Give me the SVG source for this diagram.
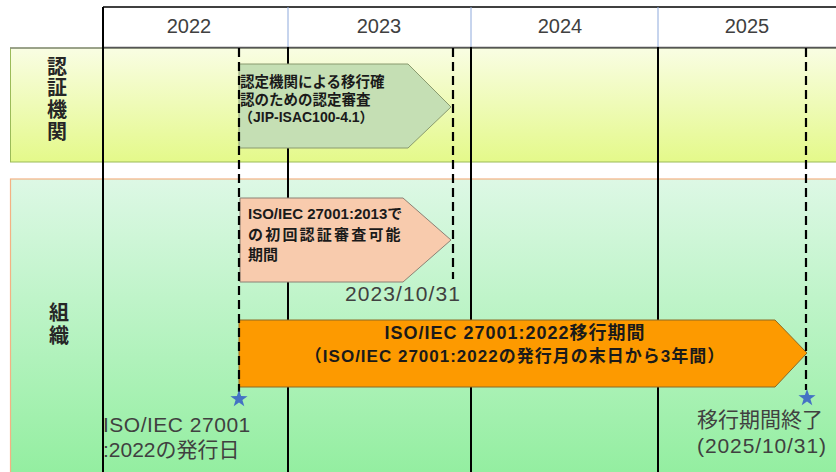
<svg xmlns="http://www.w3.org/2000/svg" width="836" height="472" viewBox="0 0 836 472">
<defs>
<linearGradient id="gBand1" x1="0" y1="0" x2="0" y2="1">
<stop offset="0" stop-color="#f9fde3"/>
<stop offset="1" stop-color="#e4f98a"/>
</linearGradient>
<linearGradient id="gBand2" x1="0" y1="0" x2="0" y2="1">
<stop offset="0" stop-color="#ddf8e5"/>
<stop offset="1" stop-color="#92ee9f"/>
</linearGradient>
<path id="star" d="M0,-9 L2.12,-2.91 L8.56,-2.78 L3.42,1.11 L5.29,7.28 L0,3.6 L-5.29,7.28 L-3.42,1.11 L-8.56,-2.78 L-2.12,-2.91 Z" fill="#4472c4"/>
<style>
.t{font-family:"Liberation Sans","Noto Sans CJK JP",sans-serif;}
.yr{font-size:20px;fill:#404040;text-anchor:middle;}
.side{font-size:20px;fill:#262626;font-weight:bold;text-anchor:middle;}
.lbl{font-size:21px;fill:#404040;}
.bt{font-weight:bold;fill:#1a1a1a;}
.solid{stroke:#000;stroke-width:2;fill:none;}
.dash{stroke:#000;stroke-width:2.2;stroke-dasharray:9 5;fill:none;}
.hdiv{stroke:#8faadc;stroke-width:1;}
</style>
</defs>

<g id="background">
<rect x="103" y="7" width="740" height="40" fill="#ffffff"/>
<line x1="103" y1="7" x2="836" y2="7" stroke="#000" stroke-width="1.5"/>
<line class="hdiv" x1="288" y1="7" x2="288" y2="47"/>
<line class="hdiv" x1="471" y1="7" x2="471" y2="47"/>
<line class="hdiv" x1="658" y1="7" x2="658" y2="47"/>
<rect x="10.5" y="48" width="830" height="114" fill="url(#gBand1)" stroke="#9bbb59" stroke-width="1"/>
<line x1="10" y1="48" x2="836" y2="48" stroke="#8a8f80" stroke-width="1.5"/>
<line x1="103" y1="47.5" x2="836" y2="47.5" stroke="#555" stroke-width="1.5"/>
<rect x="10.5" y="179" width="830" height="300" fill="url(#gBand2)" stroke="#f4b183" stroke-width="1.2"/>
</g>

<g id="years" class="t">
<text class="yr" x="189" y="33">2022</text>
<text class="yr" x="379" y="33">2023</text>
<text class="yr" x="560" y="33">2024</text>
<text class="yr" x="747" y="33">2025</text>
</g>

<g id="rowlabels" class="t">
<text class="side" x="57" y="74">認</text>
<text class="side" x="57" y="95">証</text>
<text class="side" x="57" y="117">機</text>
<text class="side" x="57" y="139">関</text>
<text class="side" x="59" y="320">組</text>
<text class="side" x="59" y="343">織</text>
</g>

<g id="grid">
<line class="solid" x1="103" y1="7" x2="103" y2="472"/>
<line class="solid" x1="288" y1="47" x2="288" y2="472"/>
<line class="solid" x1="471" y1="47" x2="471" y2="472"/>
<line class="solid" x1="658" y1="47" x2="658" y2="472"/>
</g>

<g id="node-cert-audit">
<path d="M239,64 L408,64 L451,107 L408,148 L239,148 Z" fill="#c5dfb4" stroke="#8a9a6e" stroke-width="1"/>
</g>

<g id="node-initial-audit">
<path d="M240,198 L403,198 L451,240 L403,282 L240,282 Z" fill="#f8cbad" stroke="#8c8074" stroke-width="1"/>
</g>

<g id="node-transition">
<path d="M239,320 L775,320 L807,353 L775,387 L239,387 Z" fill="#fd9a00" stroke="#8c6a24" stroke-width="1"/>
</g>

<g id="connectors">
<line class="dash" x1="239" y1="48" x2="239" y2="392"/>
<line class="dash" x1="453" y1="48" x2="453" y2="279"/>
<line class="dash" x1="806" y1="48" x2="806" y2="390"/>
</g>

<g id="markers">
<use href="#star" transform="translate(239,399)"/>
<use href="#star" transform="translate(807,398)"/>
</g>

<g id="node-texts" class="t">
<text class="bt" font-size="14.5" x="240" y="87">認定機関による移行確</text>
<text class="bt" font-size="14.5" x="240" y="105">認のための認定審査</text>
<text class="bt" font-size="14" x="239" y="122">（JIP-ISAC100-4.1）</text>

<text class="bt" font-size="15" x="248" y="219">ISO/IEC 27001:2013で</text>
<text class="bt" font-size="15" x="248" y="240" letter-spacing="2.2">の初回認証審査可能</text>
<text class="bt" font-size="15" x="248" y="260">期間</text>

<text class="bt" font-size="18" x="515" y="339" text-anchor="middle" letter-spacing="1">ISO/IEC 27001:2022移行期間</text>
<text class="bt" font-size="17" x="515" y="362" text-anchor="middle" letter-spacing="1">（ISO/IEC 27001:2022の発行月の末日から3年間）</text>
</g>

<g id="labels" class="t">
<text class="lbl" x="461" y="301" text-anchor="end" letter-spacing="1.1">2023/10/31</text>
<text class="lbl" x="103" y="432" letter-spacing="0.5">ISO/IEC 27001</text>
<text class="lbl" x="103" y="457">:2022の発行日</text>
<text class="lbl" x="697" y="427">移行期間終了</text>
<text class="lbl" x="697" y="453" letter-spacing="0.9">(2025/10/31)</text>
</g>
</svg>
